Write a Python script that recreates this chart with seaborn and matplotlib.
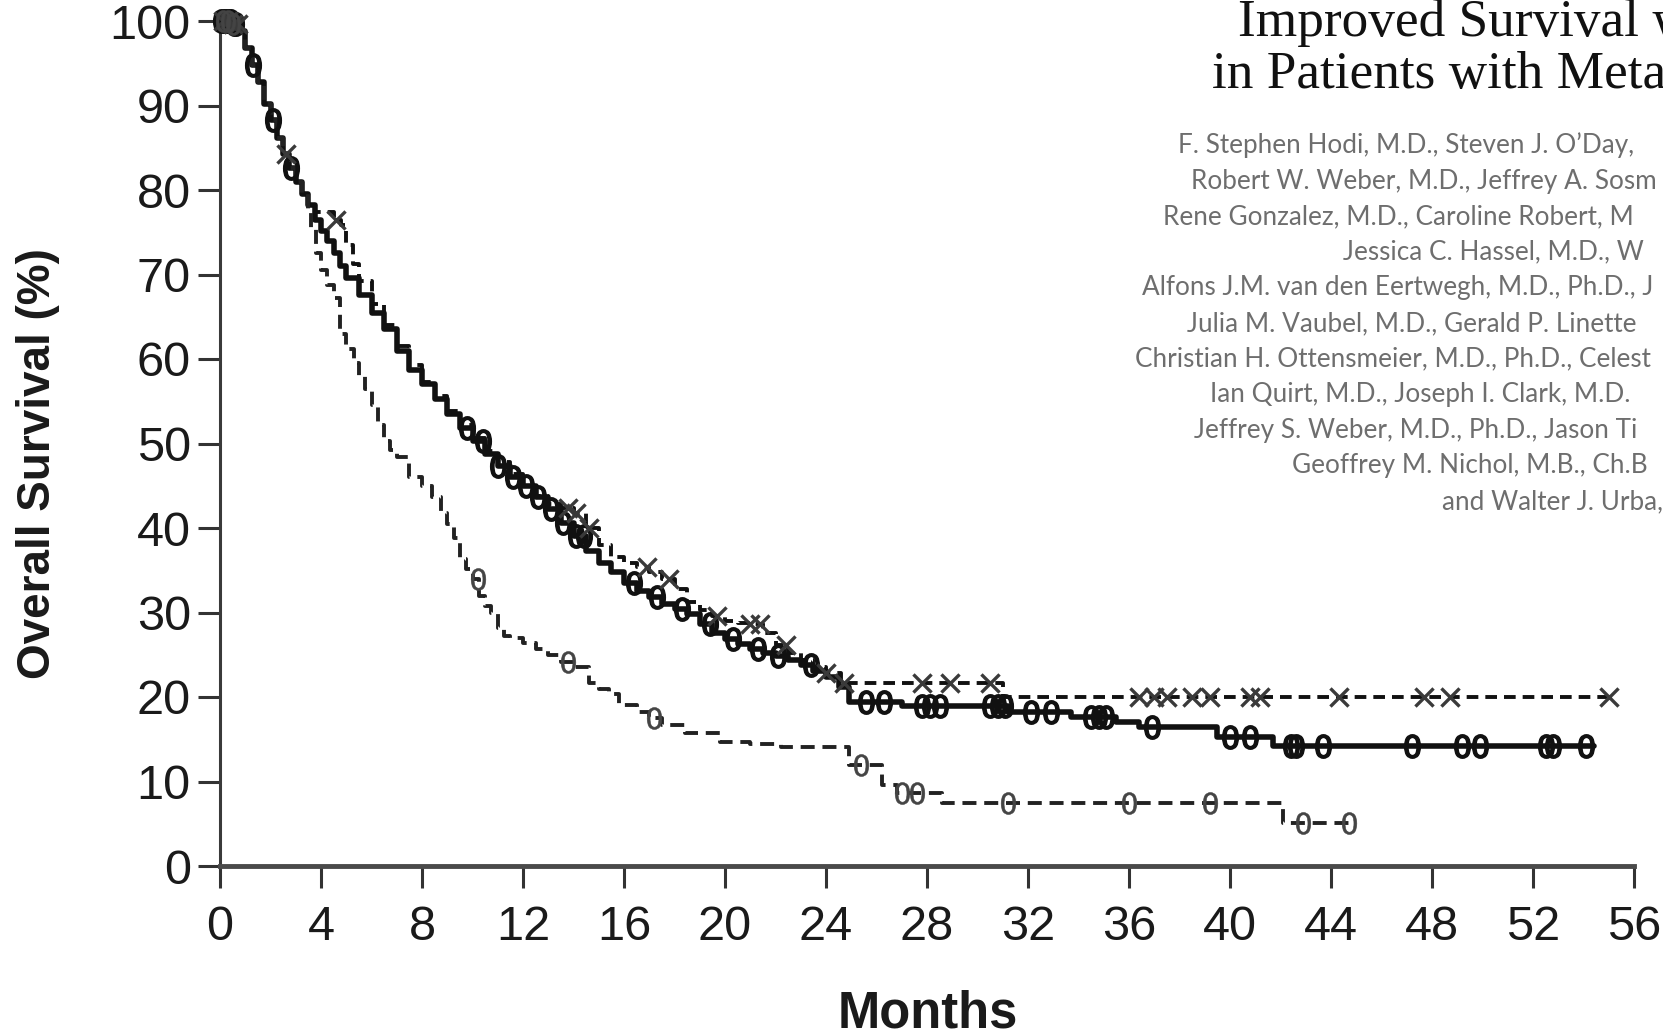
import numpy as np
import pandas as pd
import seaborn as sns
import matplotlib.pyplot as plt

# Kaplan-Meier steps (months, % surviving)
combo_months = [0, 0.25, 0.5, 0.75, 1.0, 1.25, 1.5, 1.75, 2.0, 2.25, 2.5, 2.75, 3.0, 3.25, 3.5,
                3.75, 4.0, 4.25, 4.5, 4.75, 5.0, 5.5, 6.0, 6.5, 7.0, 7.5, 8.0, 8.5, 9.0, 9.5,
                10.0, 10.5, 11.0, 11.5, 12.0, 12.5, 13.0, 13.5, 14.0, 14.5, 15.0, 15.5, 16.0,
                16.5, 17.0, 17.5, 18.0, 18.5, 19.0, 19.5, 20.0, 20.5, 21.0, 21.5, 22.0, 22.5,
                23.0, 23.5, 24.0, 24.5, 24.9, 27.0, 31.2, 33.7, 35.5, 36.4, 39.5, 41.7, 54.4]
combo_surv = [100, 100, 99.6, 98.8, 96.8, 94.8, 92.8, 90.2, 88.3, 86.2, 84.3, 82.6, 80.9, 79.5, 78.2,
              76.4, 75.2, 74.0, 72.6, 71.0, 69.6, 67.6, 65.5, 63.5, 61.0, 58.7, 57.0, 55.3, 53.5, 51.8,
              50.3, 48.7, 47.3, 46.0, 45.0, 43.7, 42.2, 40.6, 39.0, 37.3, 35.9, 34.8, 33.5,
              32.6, 31.8, 31.0, 30.4, 29.8, 28.6, 27.6, 26.9, 26.3, 25.7, 25.2, 24.8, 24.4,
              23.8, 23.1, 22.4, 21.2, 19.4, 18.9, 18.2, 17.6, 17.0, 16.5, 15.3, 14.2, 14.2]
combo_censored = [0.05, 0.15, 0.25, 0.35, 0.45, 0.55, 0.65, 1.3, 2.1, 2.8, 9.8, 10.4, 11.0, 11.6,
                  12.1, 12.6, 13.1, 13.6, 14.1, 14.4, 16.4, 17.3, 18.3, 19.4, 20.3, 21.3, 22.1,
                  23.4, 25.6, 26.3, 27.8, 28.1, 28.5, 30.5, 30.8, 31.1, 32.1, 32.9, 34.5, 34.8,
                  35.1, 36.9, 40.0, 40.8, 42.4, 42.6, 43.7, 47.2, 49.2, 49.9, 52.5, 52.8, 54.1]

ipi_months = [0, 0.25, 0.5, 0.75, 1.0, 1.25, 1.5, 1.75, 2.0, 2.25, 2.5, 2.75, 3.0, 3.25, 3.5,
              3.75, 4.5, 4.8, 5.0, 5.25, 5.5, 6.0, 6.5, 7.0, 7.5, 8.0, 8.5, 9.0, 9.5, 10.0,
              10.5, 11.0, 11.5, 12.0, 12.5, 13.0, 13.5, 14.0, 14.5, 15.0, 15.5, 16.0, 16.5,
              17.0, 17.5, 18.0, 18.5, 19.0, 19.5, 20.0, 20.5, 21.0, 21.5, 22.0, 22.5, 23.0,
              23.5, 24.0, 24.6, 31.0, 55.0]
ipi_surv = [100, 100, 99.6, 98.8, 96.8, 94.8, 92.8, 90.2, 88.3, 86.2, 84.3, 82.6, 80.9, 79.5, 78.2,
            77.4, 76.5, 75.8, 73.5, 71.2, 69.2, 66.5, 64.0, 61.5, 59.3, 57.3, 55.6, 53.8, 52.2, 50.6,
            49.1, 47.8, 46.4, 45.0, 43.8, 42.8, 42.4, 41.8, 40.0, 38.0, 36.6, 35.8, 35.4,
            34.8, 34.0, 32.8, 31.2, 30.3, 29.6, 29.0, 28.8, 28.6, 27.6, 26.2, 25.2, 24.4,
            23.6, 22.8, 21.7, 20.0, 20.0]
ipi_censored = [0.1, 0.3, 0.5, 0.7, 2.6, 4.6, 13.8, 14.1, 14.6, 16.9, 17.8, 19.7, 21.0, 21.4,
                22.4, 24.0, 24.7, 27.8, 28.9, 30.5, 36.4, 37.0, 37.5, 38.5, 39.2, 40.8, 41.2,
                44.3, 47.7, 48.7, 55.0]

gp_months = [0, 0.25, 0.5, 0.75, 1.0, 1.25, 1.5, 1.75, 2.0, 2.25, 2.5, 2.75, 3.0, 3.25, 3.5,
             3.6, 3.8, 4.0, 4.25, 4.5, 4.75, 5.0, 5.3, 5.5, 5.75, 6.0, 6.25, 6.5, 6.75, 7.0,
             7.5, 8.0, 8.4, 8.75, 9.0, 9.25, 9.5, 9.75, 10.0, 10.25, 10.5, 10.75, 11.0, 11.25,
             11.5, 12.0, 12.5, 13.0, 13.5, 14.0, 14.6, 15.0, 15.4, 15.8, 16.5, 17.0, 17.5,
             18.4, 19.8, 21.0, 22.2, 24.9, 26.2, 26.8, 28.6, 42.1, 44.8]
gp_surv = [100, 100, 99.6, 98.8, 96.8, 94.8, 92.8, 90.2, 88.3, 86.2, 84.3, 82.6, 80.9, 79.5, 77.5,
           75.5, 72.5, 70.5, 68.8, 67.2, 63.0, 61.2, 59.5, 58.0, 56.5, 54.5, 52.2, 50.3, 49.2, 48.4,
           46.0, 45.0, 43.7, 41.8, 40.5, 38.8, 36.3, 35.2, 34.0, 32.0, 30.8, 30.0, 28.2, 27.2,
           27.0, 26.4, 25.7, 25.0, 24.2, 23.6, 21.6, 21.0, 20.4, 19.0, 18.2, 17.5, 16.7,
           15.7, 14.7, 14.4, 14.1, 12.0, 9.6, 8.6, 7.4, 5.1, 5.1]
gp_censored = [0.1, 0.3, 0.5, 10.2, 13.8, 17.2, 25.4, 27.0, 27.6, 31.2, 36.0, 39.2, 42.9, 44.7]

x_ticks = list(range(0, 57, 4))
y_ticks = list(range(0, 101, 10))

# only the part of the heading that shows inside the picture
title_lines = ["Improved Survival w", "in Patients with Meta"]
title_x = [1238, 1212]
title_y = [36, 88]
author_lines = [
    "F. Stephen Hodi, M.D., Steven J. O\u2019Day,",
    "Robert W. Weber, M.D., Jeffrey A. Sosm",
    "Rene Gonzalez, M.D., Caroline Robert, M",
    "Jessica C. Hassel, M.D., W",
    "Alfons J.M. van den Eertwegh, M.D., Ph.D., J",
    "Julia M. Vaubel, M.D., Gerald P. Linette",
    "Christian H. Ottensmeier, M.D., Ph.D., Celest",
    "Ian Quirt, M.D., Joseph I. Clark, M.D.",
    "Jeffrey S. Weber, M.D., Ph.D., Jason Ti",
    "Geoffrey M. Nichol, M.B., Ch.B",
    "and Walter J. Urba,",
]
author_x = [1178, 1191, 1163, 1343, 1142, 1187, 1135, 1210, 1194, 1292, 1442]

sns.set_style("ticks")
plt.rcParams["font.family"] = ["Liberation Sans Narrow", "Liberation Sans"]

W, H = 1663, 1036
fig = plt.figure(figsize=(W / 100, H / 100), dpi=100)
ax = fig.add_axes([220 / W, 1 - 866 / H, 1414 / W, 845 / H])


def on_curve(months, surv, times):
    idx = np.searchsorted(months, times, side="right") - 1
    return np.asarray(surv)[idx]


arms = [
    (combo_months, combo_surv, combo_censored, "-", "#111111"),
    (ipi_months, ipi_surv, ipi_censored, (0, (3.0, 1.8)), "#111111"),
    (gp_months, gp_surv, gp_censored, (0, (3.6, 2.0)), "#222222"),
]
for i, (m, s, cens, ls, col) in enumerate(arms):
    df = pd.DataFrame({"month": m, "surv": s})
    sns.lineplot(data=df, x="month", y="surv", ax=ax, estimator=None, sort=False,
                 drawstyle="steps-post", color=col, linestyle=ls,
                 lw=4.0 if i == 0 else 2.8, clip_on=False)

    cdf = pd.DataFrame({"month": cens, "surv": on_curve(m, s, cens)})
    if i == 0:
        sns.scatterplot(data=cdf, x="month", y="surv", ax=ax, marker="$0$", s=280,
                        color="#111111", edgecolor="#111111", linewidth=1.2,
                        clip_on=False, zorder=4)
    elif i == 1:
        sns.scatterplot(data=cdf, x="month", y="surv", ax=ax, marker="x", s=170,
                        color="#3a3a3a", linewidth=2.4, clip_on=False, zorder=4)
    else:
        sns.scatterplot(data=cdf, x="month", y="surv", ax=ax, marker="$0$", s=250,
                        color="#444444", edgecolor="#444444", linewidth=0.4,
                        clip_on=False, zorder=4)

ax.set_xlim(0, 56)
ax.set_ylim(0, 100)
ax.set_xticks(x_ticks)
ax.set_yticks(y_ticks)
ax.set_xlabel("")
ax.set_ylabel("")

ax.spines["top"].set_visible(False)
ax.spines["right"].set_visible(False)
ax.spines["left"].set_color("#3a3a3a")
ax.spines["left"].set_linewidth(2.2)
ax.spines["bottom"].set_color("#4a4a4a")
ax.spines["bottom"].set_linewidth(3.5)

ax.tick_params(axis="both", direction="out", length=16, width=2.2, color="#333333",
               labelsize=35, labelcolor="#1a1a1a")
ax.tick_params(axis="x", pad=12)
ax.tick_params(axis="y", pad=5)

fig.text(38 / W, 1 - 464 / H, "Overall Survival (%)", rotation=90, ha="center", va="center",
         fontsize=33, fontweight="bold", color="#1a1a1a")
fig.text(928 / W, 1 - 1028 / H, "Months", ha="center", va="baseline",
         fontsize=36.5, fontweight="bold", color="#1a1a1a")

for line, x0, y0 in zip(title_lines, title_x, title_y):
    fig.text(x0 / W, 1 - y0 / H, line, family="Liberation Serif", fontsize=38.3,
             ha="left", va="baseline", color="#111111")

for k, (line, x0) in enumerate(zip(author_lines, author_x)):
    yb = 153 + k * 35.6
    fig.text(x0 / W, 1 - yb / H, line, family="Lato", fontsize=18.8, ha="left",
             va="baseline", color="#6e6e6e")

fig.savefig("out.png", dpi=100)
